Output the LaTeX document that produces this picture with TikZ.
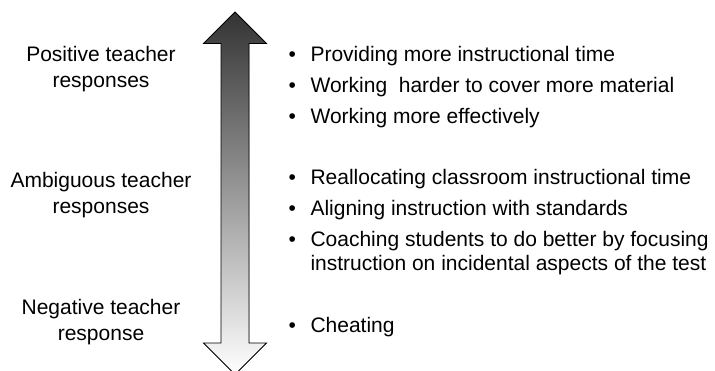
\documentclass[tikz,border=0pt]{standalone}
\usepackage{fontspec}
\setmainfont{Liberation Sans}

% bullet lists on the right hand side
\newcommand{\itemlist}[1]{\begin{tabular}[t]{@{}l@{\hspace{14.5pt}}l@{}}#1\end{tabular}}

\begin{document}
\begin{tikzpicture}[x=1pt,y=-1pt,
    resp/.style={font=\fontsize{21}{26}\selectfont, align=center, inner sep=0pt, anchor=base},
    items/.style={font=\fontsize{21}{31}\selectfont, inner sep=0pt, anchor=base west}]
    \useasboundingbox (0,0) rectangle (715,370);

    % shaded double headed arrow
    \filldraw[top color=black!80, bottom color=white, draw=black, line width=0.8pt]
        (235,12) -- (266.5,43.5) -- (249,43.5) -- (249,343) -- (266.5,343)
        -- (235,374.5) -- (203.5,343) -- (221,343) -- (221,43.5) -- (203.5,43.5) -- cycle;

    % kinds of responses (base is the second line)
    \node[resp] (pos) at (101,87)  {Positive teacher\\responses};
    \node[resp] (amb) at (101,213) {Ambiguous teacher\\responses};
    \node[resp] (neg) at (101,340) {Negative teacher\\response};

    \node[items] (posl) at (288.5,61) {\itemlist{%
        \textbullet & Providing more instructional time\\
        \textbullet & Working\ \ harder to cover more material\\
        \textbullet & Working more effectively}};
    \node[items] (ambl) at (288.5,184) {\itemlist{%
        \textbullet & Reallocating classroom instructional time\\
        \textbullet & Aligning instruction with standards\\
        \textbullet & Coaching students to do better by focusing\\[-7pt]
                    & instruction on incidental aspects of the test}};
    \node[items] (negl) at (288.5,332) {\itemlist{%
        \textbullet & Cheating}};
\end{tikzpicture}
\end{document}
